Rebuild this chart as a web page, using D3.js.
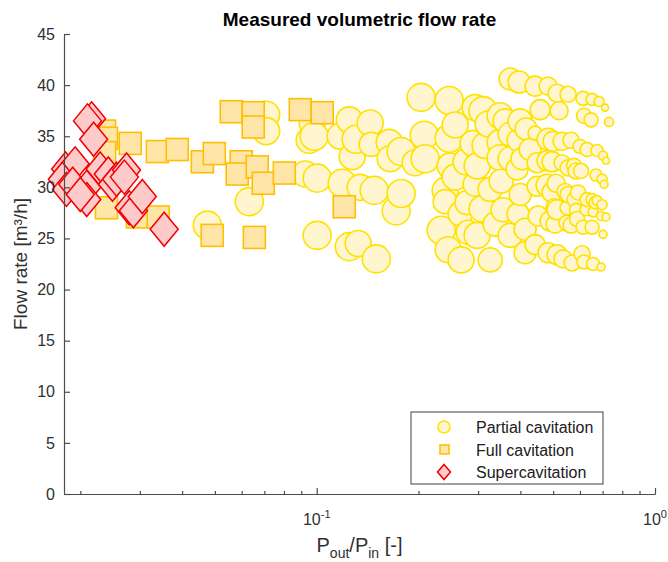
<!DOCTYPE html>
<html>
<head>
<meta charset="utf-8">
<script src="https://cdn.jsdelivr.net/npm/d3@7/dist/d3.min.js"></script>
<style>
  body { margin: 0; background: #fff; }
  svg { display: block; font-family: "Liberation Sans", Arial, Helvetica, sans-serif; }
</style>
</head>
<body>
<div id="chart"></div>
<script>
// Partial cavitation (circles): Pout/Pin, flow rate [m3/h], marker area
const partialX = [
  0.0475, 0.0632, 0.0709, 0.0709, 0.0925, 0.1003, 0.1003, 0.0983, 0.0950, 0.0970,
  0.1248, 0.1439, 0.1173, 0.1308, 0.1273, 0.1449, 0.1638, 0.1777, 0.1649, 0.1954, 0.2078, 0.2092, 0.2463, 0.2566, 0.2036, 0.2463,
  0.1189, 0.1344, 0.1479, 0.1777, 0.1717, 0.2397, 0.2397, 0.1248, 0.1326, 0.1500, 0.2333, 0.2446, 0.2672, 0.2480,
  0.2940, 0.3103, 0.3485, 0.3605, 0.3993, 0.4158, 0.4421, 0.4575, 0.5206,
  0.3730, 0.3965, 0.4421, 0.4830, 0.5134, 0.5534, 0.6128, 0.6516, 0.6833, 0.7118, 0.6170, 0.6472, 0.7313,
  0.2900, 0.3146, 0.3485, 0.3730, 0.3938, 0.4830, 0.4997, 0.5312, 0.5649, 0.6005, 0.6297, 0.6741, 0.7022, 0.7166,
  0.2764, 0.2980, 0.3485, 0.3730, 0.3911, 0.4047, 0.4482, 0.4797, 0.4963, 0.5312, 0.5534, 0.5765, 0.5844, 0.6046, 0.6695, 0.6975, 0.7070,
  0.2940, 0.3509, 0.4482, 0.4797, 0.4963, 0.5100, 0.5422, 0.5534, 0.5805, 0.5924, 0.6297, 0.6516, 0.6650, 0.6741, 0.6975,
  0.2783, 0.3082, 0.3556, 0.3938, 0.4513, 0.5031, 0.5134, 0.5496, 0.5844, 0.6254, 0.6560, 0.6928, 0.7166,
  0.2802, 0.2980, 0.3730, 0.4897, 0.5065, 0.5496, 0.5649, 0.5884, 0.6128, 0.6516, 0.7022,
  0.3256, 0.4130, 0.4830, 0.5134, 0.5348, 0.5688, 0.6087, 0.6170, 0.6560, 0.6928,
  0.2566, 0.3256, 0.3993, 0.4274, 0.2654, 0.3368, 0.4130, 0.4421, 0.3212
];
const partialY = [
  26.3, 28.6, 37.1, 35.5, 31.3, 30.9, 25.3, 35.0, 34.6, 36.3,
  36.6, 36.3, 35.0, 34.7, 33.0, 34.2, 34.4, 33.5, 32.8, 32.4, 35.1, 32.8, 34.8, 36.1, 38.8, 38.5,
  30.4, 30.0, 29.7, 29.4, 27.7, 29.7, 28.6, 24.2, 24.5, 23.0, 25.8, 23.9, 22.9, 32.1,
  37.8, 37.5, 37.0, 36.5, 36.5, 35.7, 35.3, 37.6, 37.5,
  40.6, 40.3, 39.9, 39.9, 39.2, 39.1, 38.7, 38.6, 38.4, 37.8, 37.0, 36.6, 36.4,
  34.3, 34.1, 34.4, 35.2, 34.6, 34.7, 34.5, 34.5, 34.6, 34.0, 33.7, 33.6, 33.1, 32.6,
  32.5, 32.1, 32.9, 32.8, 31.8, 32.8, 32.4, 32.6, 32.5, 32.4, 31.9, 32.1, 31.6, 31.6, 31.2, 30.8, 30.3,
  30.3, 30.6, 30.1, 30.2, 29.5, 30.4, 29.6, 29.3, 28.8, 29.5, 28.8, 28.8, 28.5, 28.7, 28.3,
  28.5, 27.9, 27.8, 27.4, 27.2, 28.1, 27.8, 28.0, 27.8, 27.8, 27.6, 27.2, 27.1,
  25.6, 25.3, 25.3, 26.7, 26.4, 26.5, 26.3, 26.9, 26.1, 26.1, 25.4,
  22.9, 23.6, 23.6, 23.4, 23.0, 22.6, 23.5, 22.7, 22.5, 22.2,
  31.0, 29.8, 29.3, 33.7, 27.4, 26.4, 25.9, 24.4, 36.2
];
const partialS = [
  800, 800, 740, 740, 690, 800, 800, 800, 690, 690,
  690, 690, 690, 800, 690, 588, 690, 800, 690, 690, 800, 800, 800, 690, 800, 800,
  800, 690, 800, 800, 800, 690, 588, 800, 690, 800, 800, 690, 690, 690,
  690, 800, 690, 588, 588, 494, 200, 408, 330,
  494, 494, 408, 330, 330, 261, 200, 147, 102, 50, 230, 200, 83,
  690, 690, 690, 588, 494, 494, 408, 330, 261, 200, 200, 147, 83, 50,
  690, 690, 690, 588, 494, 494, 408, 408, 408, 261, 261, 230, 261, 230, 147, 102, 65,
  588, 588, 408, 494, 408, 330, 261, 261, 261, 230, 200, 147, 147, 102, 102,
  588, 690, 588, 494, 408, 261, 408, 200, 172, 147, 102, 83, 65,
  588, 690, 588, 408, 330, 261, 261, 230, 200, 200, 65,
  588, 494, 408, 408, 330, 261, 261, 200, 172, 65,
  690, 588, 494, 494, 588, 588, 494, 408, 690
];

// Full cavitation (squares)
const fullX = [0.0236, 0.0239, 0.0236, 0.0281, 0.0338, 0.0387, 0.0459, 0.0498, 0.0598, 0.0582, 0.0667, 0.0695,
  0.0802, 0.0559, 0.0649, 0.0649, 0.0894, 0.1038, 0.1206, 0.0239, 0.0295, 0.0340, 0.0491, 0.0654];
const fullY = [35.5, 34.8, 33.4, 34.3, 33.5, 33.7, 32.5, 33.3, 32.5, 31.3, 32.0, 30.4,
  31.4, 37.4, 37.3, 35.9, 37.6, 37.3, 28.1, 28.0, 27.1, 27.1, 25.3, 25.1];

// Supercavitation (diamonds)
const superX = [0.0216, 0.0210, 0.0219, 0.0181, 0.0193, 0.0177, 0.0182, 0.0190, 0.0209, 0.0209, 0.0200,
  0.0229, 0.0242, 0.0249, 0.0256, 0.0274, 0.0270, 0.0279, 0.0287, 0.0305, 0.0354];
const superY = [36.7, 36.5, 34.7, 31.8, 32.3, 30.8, 29.8, 30.3, 30.0, 28.8, 29.3,
  31.8, 31.3, 30.3, 30.8, 31.7, 31.0, 28.0, 27.7, 29.1, 25.9];

const yTicks = [0, 5, 10, 15, 20, 25, 30, 35, 40, 45];
const xMajorTicks = [0.1, 1];
const xMinorTicks = [0.02, 0.03, 0.04, 0.05, 0.06, 0.07, 0.08, 0.09, 0.2, 0.3, 0.4, 0.5, 0.6, 0.7, 0.8, 0.9];
const legendLabels = ['Partial cavitation', 'Full cavitation', 'Supercavitation'];

const colors = {
  partial: { fill: '#fff6cf', stroke: '#ffe200' },
  full: { fill: '#ffe6a8', stroke: '#ffbf00' },
  super: { fill: '#ffcaca', stroke: '#f00000' }
};

const width = 668, height = 562;
const margin = { top: 34, right: 13, bottom: 68, left: 64 };
const w = width - margin.left - margin.right;
const h = height - margin.top - margin.bottom;

const svg = d3.select('#chart').append('svg')
  .attr('width', width)
  .attr('height', height);

const g = svg.append('g').attr('transform', `translate(${margin.left},${margin.top})`);

const x = d3.scaleLog().domain([0.0179, 1]).range([0, w]);
const y = d3.scaleLinear().domain([0, 45]).range([h, 0]);
const r = d3.scaleSqrt().domain([0, 800]).range([0, 14]);

const diamond = (hw, hh) => `M0,${-hh}L${hw},0L0,${hh}L${-hw},0Z`;

// circles, drawn left to right so the smaller tail markers sit on top
const partial = partialX.map((v, i) => ({ x: v, y: partialY[i], s: partialS[i] }))
  .sort((a, b) => a.x - b.x);

g.append('g').selectAll('circle').data(partial).join('circle')
  .attr('cx', d => x(d.x))
  .attr('cy', d => y(d.y))
  .attr('r', d => r(d.s))
  .attr('fill', colors.partial.fill)
  .attr('stroke', colors.partial.stroke)
  .attr('stroke-width', 1.6);

const sq = 22;
g.append('g').selectAll('rect').data(fullX.map((v, i) => ({ x: v, y: fullY[i] }))).join('rect')
  .attr('x', d => x(d.x) - sq / 2)
  .attr('y', d => y(d.y) - sq / 2)
  .attr('width', sq)
  .attr('height', sq)
  .attr('fill', colors.full.fill)
  .attr('stroke', colors.full.stroke)
  .attr('stroke-width', 1.6);

g.append('g').selectAll('path').data(superX.map((v, i) => ({ x: v, y: superY[i] }))).join('path')
  .attr('transform', d => `translate(${x(d.x)},${y(d.y)})`)
  .attr('d', diamond(14, 17))
  .attr('fill', colors.super.fill)
  .attr('stroke', colors.super.stroke)
  .attr('stroke-width', 1.5);

// axes
const axisColor = '#4d4d4d';

const yAxis = g.append('g')
  .call(d3.axisLeft(y).tickValues(yTicks).tickSizeInner(-6).tickSizeOuter(0).tickPadding(9));

const xMinor = g.append('g')
  .attr('transform', `translate(0,${h})`)
  .call(d3.axisBottom(x).tickValues(xMinorTicks).tickSizeInner(-3).tickSizeOuter(0).tickFormat(() => ''));

const xMajor = g.append('g')
  .attr('transform', `translate(0,${h})`)
  .call(d3.axisBottom(x).tickValues(xMajorTicks).tickSizeInner(-6).tickSizeOuter(0).tickFormat(() => ''));

[yAxis, xMinor, xMajor].forEach(a => {
  a.select('.domain').attr('stroke', axisColor).attr('stroke-width', 1.2);
  a.selectAll('.tick line').attr('stroke', axisColor).attr('stroke-width', 1.2);
});
yAxis.selectAll('.tick text')
  .attr('fill', '#303030')
  .style('font-size', '16px');

// 10^n labels
const xTickLabels = g.append('g').selectAll('text').data(xMajorTicks).join('text')
  .attr('x', d => x(d))
  .attr('y', h + 31)
  .attr('text-anchor', 'middle')
  .attr('fill', '#303030')
  .style('font-size', '16px');
xTickLabels.append('tspan').text('10');
xTickLabels.append('tspan')
  .attr('dy', -7)
  .style('font-size', '11px')
  .text(d => String(Math.round(Math.log10(d))));

// title and axis labels
svg.append('text')
  .attr('x', margin.left + w / 2)
  .attr('y', 26)
  .attr('text-anchor', 'middle')
  .attr('fill', '#000')
  .style('font-size', '19px')
  .style('font-weight', 'bold')
  .text('Measured volumetric flow rate');

const xLabel = svg.append('text')
  .attr('x', margin.left + w / 2)
  .attr('y', 552)
  .attr('text-anchor', 'middle')
  .attr('fill', '#303030')
  .style('font-size', '20px');
xLabel.append('tspan').text('P');
xLabel.append('tspan').attr('dy', 6).style('font-size', '14px').text('out');
xLabel.append('tspan').attr('dy', -6).text('/P');
xLabel.append('tspan').attr('dy', 6).style('font-size', '14px').text('in');
xLabel.append('tspan').attr('dy', -6).text(' [-]');

svg.append('text')
  .attr('transform', `translate(27,${margin.top + h / 2}) rotate(-90)`)
  .attr('text-anchor', 'middle')
  .attr('fill', '#303030')
  .style('font-size', '19px')
  .text('Flow rate [m³/h]');

// legend
const legend = svg.append('g').attr('transform', 'translate(411,412)');
legend.append('rect')
  .attr('width', 192)
  .attr('height', 72)
  .attr('fill', '#fff')
  .attr('stroke', '#404040')
  .attr('stroke-width', 1);

const rows = legend.selectAll('g.row').data(legendLabels).join('g')
  .attr('class', 'row')
  .attr('transform', (d, i) => `translate(0,${15 + i * 22.5})`);

rows.each(function (d, i) {
  const row = d3.select(this);
  if (i === 0) {
    row.append('circle').attr('cx', 33).attr('cy', 0).attr('r', 6)
      .attr('fill', colors.partial.fill).attr('stroke', colors.partial.stroke).attr('stroke-width', 1.5);
  } else if (i === 1) {
    row.append('rect').attr('x', 29).attr('y', -4.5).attr('width', 9).attr('height', 9)
      .attr('fill', colors.full.fill).attr('stroke', colors.full.stroke).attr('stroke-width', 1.5);
  } else {
    row.append('path').attr('transform', 'translate(33,0)').attr('d', diamond(6.5, 7.5))
      .attr('fill', colors.super.fill).attr('stroke', colors.super.stroke).attr('stroke-width', 1.5);
  }
  row.append('text')
    .attr('x', 65)
    .attr('y', 6)
    .attr('fill', '#202020')
    .style('font-size', '16px')
    .text(d);
});
</script>
</body>
</html>
